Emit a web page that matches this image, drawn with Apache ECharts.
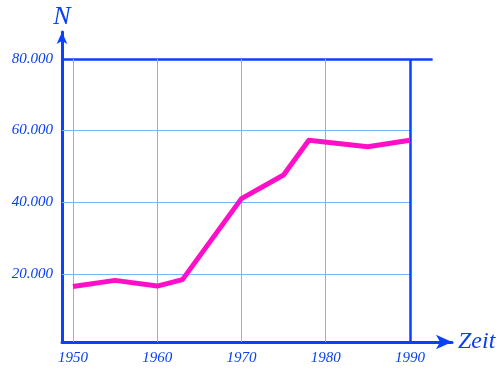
<!DOCTYPE html>
<html><head><meta charset="utf-8">
<script src="https://cdn.jsdelivr.net/npm/echarts@6/dist/echarts.min.js"></script>
<style>html,body{margin:0;padding:0;background:#fff}#c{width:500px;height:370px}</style>
</head><body><div id="c"></div>
<script>
const years  = [1950, 1955, 1960, 1963, 1970, 1975, 1978, 1985, 1990];
const values = [16500, 18200, 16600, 18400, 41000, 47600, 57300, 55500, 57300];
const xTicks = [1950, 1960, 1970, 1980, 1990];
const yTicks = [20000, 40000, 60000, 80000];
const xMin = 1948.7, xMax = 1995, yMin = 1000, yMax = 87500;

const axisBlue = '#0a40ff', gridBlue = '#78b4ff', labelBlue = '#0a40ee';
const lbl = {color: labelBlue, fontFamily: 'Liberation Serif', fontStyle: 'italic', fontSize: 15};

const gridLines = [];
yTicks.forEach(v => {
  const top = v === yTicks[yTicks.length - 1];
  gridLines.push([{coord: [xMin, v], lineStyle: top ? {color: axisBlue, width: 2.5, type: 'solid'} : {color: gridBlue, width: 1, type: 'solid'}},
                  {coord: [top ? 1992.7 : xTicks[xTicks.length - 1], v]}]);
});
xTicks.forEach(x => {
  const last = x === xTicks[xTicks.length - 1];
  gridLines.push([{coord: [x, yMin], lineStyle: last ? {color: axisBlue, width: 2.5, type: 'solid'} : {color: gridBlue, width: 1, type: 'solid'}},
                  {coord: [x, yTicks[yTicks.length - 1]]}]);
});

const chart = echarts.init(document.getElementById('c'), null, {renderer: 'canvas'});
chart.setOption({
  animation: false,
  grid: {left: 62, right: 48, top: 32, bottom: 28},
  xAxis: {
    type: 'value', min: xMin, max: xMax,
    name: 'Zeit', nameLocation: 'end', nameGap: 6,
    nameTextStyle: {color: labelBlue, fontFamily: 'Liberation Serif', fontStyle: 'italic', fontSize: 24, verticalAlign: 'middle'},
    axisLine: {show: true, symbol: ['none', 'arrow'], symbolSize: [11, 16], lineStyle: {color: axisBlue, width: 3}},
    axisTick: {show: false, customValues: xTicks},
    splitLine: {show: false},
    axisLabel: Object.assign({customValues: xTicks, margin: 9, formatter: v => String(v)}, lbl)
  },
  yAxis: {
    type: 'value', min: yMin, max: yMax,
    name: 'N', nameLocation: 'end', nameGap: 2,
    nameTextStyle: {color: labelBlue, fontFamily: 'Liberation Serif', fontStyle: 'italic', fontSize: 26, align: 'center'},
    axisLine: {show: true, symbol: ['none', 'arrow'], symbolSize: [8, 12], lineStyle: {color: axisBlue, width: 3}},
    axisTick: {show: false, customValues: yTicks},
    splitLine: {show: false},
    axisLabel: Object.assign({customValues: yTicks, margin: 9,
      formatter: v => (v / 1000) + '.000'}, lbl)
  },
  series: [
    {
      type: 'line', data: [], silent: true,
      markLine: {symbol: ['none', 'none'], silent: true, label: {show: false}, animation: false,
        lineStyle: {type: 'solid'}, data: gridLines}
    },
    {
      type: 'line', z: 5,
      data: years.map((y, i) => [y, values[i]]),
      showSymbol: false, symbol: 'none',
      lineStyle: {color: '#ff10c8', width: 5, join: 'round'}
    }
  ]
});
</script></body></html>
